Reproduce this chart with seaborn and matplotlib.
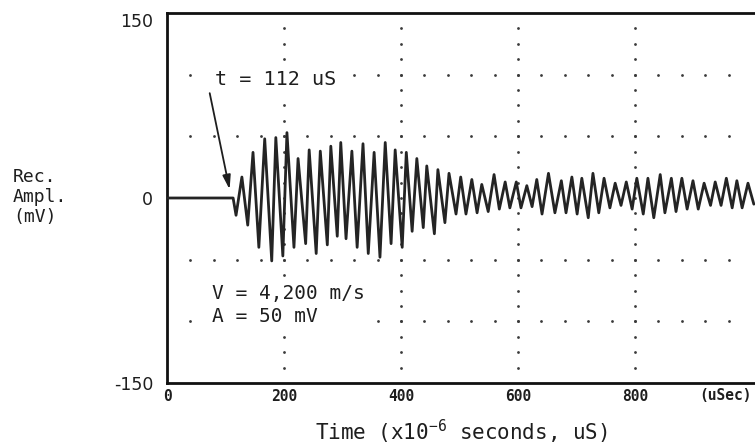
import numpy as np
import pandas as pd
import matplotlib
matplotlib.use("Agg")
import matplotlib.pyplot as plt
import seaborn as sns

# ---- data (time of each extremum, amplitude) ----
time_us = [0, 113, 118, 128, 138, 147, 157, 167, 179, 186, 198, 205, 217, 224, 237,
           243, 255, 262, 274, 280, 291, 297, 306, 316, 325, 335, 344, 354, 364, 373,
           383, 390, 402, 409, 419, 427, 438, 444, 457, 463, 475, 482, 494, 502, 511,
           521, 530, 538, 549, 559, 568, 578, 586, 597, 605, 615, 624, 632, 641, 652,
           663, 674, 682, 692, 701, 709, 720, 728, 738, 747, 757, 766, 776, 785, 795,
           803, 814, 822, 832, 843, 851, 862, 870, 880, 889, 899, 908, 918, 929, 937,
           947, 956, 966, 974, 983, 993, 1003]
amp_mv = [0, 0, -14, 17, -22, 37, -40, 48, -51, 49, -47, 53, -40, 32, -37,
          39, -45, 38, -38, 42, -31, 45, -33, 38, -40, 44, -45, 37, -48, 45,
          -37, 39, -40, 37, -27, 32, -24, 26, -29, 23, -20, 20, -13, 17, -13,
          15, -12, 11, -11, 19, -9, 13, -8, 13, -8, 10, -7, 15, -13, 20,
          -12, 14, -12, 17, -13, 16, -16, 20, -12, 16, -8, 12, -6, 13, -9,
          16, -13, 16, -16, 19, -12, 16, -11, 16, -9, 14, -9, 12, -6, 13,
          -6, 16, -8, 14, -8, 12, -5]

x_ticks = [0, 200, 400, 600, 800]
x_tick_labels = ["0", "200", "400", "600", "800"]
y_ticks = [-150, 0, 150]
y_tick_labels = ["-150", "0", "150"]
grid_x = [200, 400, 600, 800]
grid_y = [-100, -50, 50, 100]

sns.set_theme(style="white")
plt.rcParams["font.family"] = ["DejaVu Sans Mono", "DejaVu Sans"]
plt.rcParams["mathtext.fontset"] = "custom"
plt.rcParams["mathtext.rm"] = "DejaVu Sans Mono"

ink = "#1e1e1e"
fig = plt.figure(figsize=(7.55, 4.47), dpi=100)
ax = fig.add_axes([167 / 755, 1 - 383 / 447, 588 / 755, 370 / 447])

# dotted grid
dot_x = np.arange(40, 1000, 40)
dot_y = np.arange(-137.5, 140, 12.5)
for gy in grid_y:
    ax.scatter(dot_x, np.full(dot_x.shape, gy), s=4, color="#3a3a3a", linewidths=0, zorder=1)
for gx in grid_x:
    ax.scatter(np.full(dot_y.shape, gx), dot_y, s=4, color="#3a3a3a", linewidths=0, zorder=1)

df = pd.DataFrame({"time": time_us, "amp": amp_mv})
sns.lineplot(data=df, x="time", y="amp", sort=False, estimator=None,
             color="#242424", linewidth=2.0, ax=ax, zorder=3)

ax.set_xlim(0, 1005)
ax.set_ylim(-150, 150)
ax.set_xticks(x_ticks)
ax.set_xticklabels(x_tick_labels, fontsize=10.5, fontweight="bold", color=ink)
ax.set_yticks(y_ticks)
ax.set_yticklabels(y_tick_labels, fontsize=12.5, color=ink, family="DejaVu Sans")
ax.tick_params(axis="both", length=0)
ax.tick_params(axis="y", pad=10)
ax.tick_params(axis="x", pad=4)
ax.get_yticklabels()[2].set_va("top")

for side in ["left", "top", "bottom"]:
    ax.spines[side].set_visible(True)
    ax.spines[side].set_color("#111111")
    ax.spines[side].set_linewidth(2.0)
ax.spines["right"].set_visible(False)
ax.grid(False)

ax.set_xlabel("Time (x10$\\mathregular{^{-6}}$ seconds, uS)", fontsize=15, color=ink, va="center")
ax.xaxis.set_label_coords(0.5, -(432 - 383) / 370)
ax.set_ylabel("Rec.\nAmpl.\n(mV)", rotation=0, ha="left", va="center",
              fontsize=13, color=ink, linespacing=1.15)
ax.yaxis.set_label_coords(-(167 - 13) / 588, (383 - 197) / 370)

ax.text(955, -0.033, "(uSec)", transform=ax.get_xaxis_transform(), ha="center",
        va="center", fontsize=10.5, fontweight="bold", color=ink)

ax.text(185, 96, "t = 112 uS", ha="center", va="center", fontsize=14.5, color=ink,
        zorder=4, bbox=dict(facecolor="white", edgecolor="none", pad=4))
ax.annotate("", xy=(107, 7), xytext=(73, 85),
            arrowprops=dict(arrowstyle="-|>,head_length=0.7,head_width=0.2",
                            color=ink, lw=1.3, shrinkA=0, shrinkB=0), zorder=5)
ax.text(77, -87, "V = 4,200 m/s\nA = 50 mV", ha="left", va="center", fontsize=14,
        color=ink, linespacing=1.25, zorder=4,
        bbox=dict(facecolor="white", edgecolor="none", pad=3))

fig.savefig("out.png", dpi=100)
